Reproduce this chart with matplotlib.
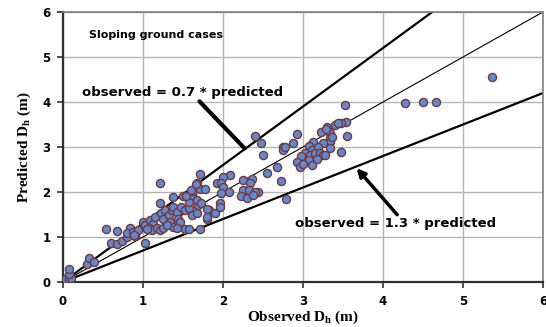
import matplotlib
matplotlib.use("Agg")
from matplotlib import pyplot as plt
import numpy as np

plt.rcParams['mathtext.fontset'] = 'custom'
plt.rcParams['mathtext.rm'] = 'Liberation Serif:bold'
plt.rcParams['mathtext.bf'] = 'Liberation Serif:bold'

# observed vs predicted displacement
observed = [
    0.03, 0.07, 0.10, 0.07, 0.07, 0.30, 0.32, 0.39,
    0.54, 0.67, 0.60, 0.67, 0.74, 0.80, 0.84, 0.80, 0.87, 0.90, 0.94, 0.89, 1.02,
    1.00, 1.03, 1.09, 1.13, 1.07, 1.11, 1.17, 1.21, 1.25, 1.15, 1.23, 1.28, 1.25,
    1.32, 1.36, 1.38, 1.42, 1.44, 1.46, 1.48, 1.53, 1.57, 1.61, 1.67, 1.69, 1.57,
    1.61, 1.67, 1.73, 1.82, 1.50, 1.38, 1.63, 1.71, 1.78, 1.67, 1.71, 1.34, 1.38,
    1.30, 1.42, 1.52, 1.71, 1.80, 1.80, 1.90, 1.21, 1.21, 1.05, 1.54, 1.60, 1.66,
    1.57, 1.80, 1.96, 1.96,
    2.09, 2.00, 1.92, 1.98, 2.25, 2.36, 2.34, 2.00, 2.07, 1.98, 2.25, 2.33, 2.44,
    2.23, 2.30, 2.40, 2.38,
    2.40, 2.48, 2.50, 2.75, 2.75, 2.55, 2.67, 2.73, 2.79,
    3.53, 3.54, 3.48, 3.40, 3.30, 3.23, 3.34, 3.34, 3.55, 3.34, 3.25, 2.92, 2.88,
    2.78, 3.13, 3.07, 3.11, 3.19, 3.03, 3.09, 3.15, 3.21, 3.25, 3.34, 3.48, 2.98,
    3.07, 3.17, 2.92, 2.96, 3.11, 3.28, 3.00, 3.44, 3.29, 3.36,
    4.27, 4.50, 4.66, 5.36,
]
predicted = [
    0.07, 0.07, 0.08, 0.18, 0.29, 0.41, 0.53, 0.45,
    1.17, 1.13, 0.87, 0.84, 0.92, 0.99, 1.21, 1.08, 1.12, 1.02, 1.16, 1.05, 0.86,
    1.34, 1.27, 1.38, 1.30, 1.19, 1.16, 1.19, 1.16, 1.19, 1.45, 1.53, 1.60, 1.41,
    1.49, 1.60, 1.67, 1.56, 1.41, 1.34, 1.67, 1.60, 1.64, 1.49, 1.53, 1.71, 1.78,
    1.93, 1.82, 1.75, 1.60, 1.91, 1.88, 2.03, 2.06, 2.06, 2.19, 2.39, 1.34, 1.23,
    1.27, 1.19, 1.17, 1.17, 1.41, 1.62, 1.53, 2.19, 1.75, 1.17, 1.91, 2.04, 2.18,
    1.17, 1.45, 1.75, 1.66,
    2.38, 2.33, 2.21, 2.19, 2.27, 2.28, 2.21, 2.12, 2.01, 1.97, 2.04, 2.04, 2.01,
    1.91, 1.86, 1.99, 1.93,
    3.25, 3.10, 2.82, 3.01, 2.93, 2.43, 2.56, 2.25, 1.84,
    3.93, 3.56, 3.53, 3.50, 3.44, 3.34, 3.32, 3.21, 3.24, 3.12, 3.08, 3.29, 3.08,
    2.99, 3.12, 3.02, 2.93, 3.01, 2.86, 2.82, 2.86, 2.86, 2.82, 2.97, 2.90, 2.79,
    2.71, 2.73, 2.67, 2.56, 2.60, 2.82, 2.62, 3.53, 3.41, 3.23,
    3.97, 4.00, 4.00, 4.56,
]

# reference lines: predicted = ratio * observed
ratios = [1.0, 1.3, 0.7]
line_widths = [0.8, 1.6, 1.6]

fig = plt.figure(figsize=(5.46, 3.27), dpi=100)
ax = fig.add_axes([0.1154, 0.1376, 0.8791, 0.8257])

ax.set_xlim(0, 6)
ax.set_ylim(0, 6)
ax.set_xticks(range(7))
ax.set_yticks(range(7))
ax.grid(True, color='#b4b4b4', lw=1.0)
ax.set_axisbelow(True)

xs = np.array([0.1, 6.0])
for r, lw in zip(ratios, line_widths):
    ax.plot(xs, r * xs, '-k', lw=lw, zorder=2)

ax.scatter(observed, predicted, s=34, c='#5b8bd5', edgecolors='#7a3535',
           linewidths=1.0, zorder=3)

for side in ['left', 'bottom']:
    ax.spines[side].set_color('#303030')
    ax.spines[side].set_linewidth(1.6)
for side in ['top', 'right']:
    ax.spines[side].set_color('#808080')
    ax.spines[side].set_linewidth(1.2)

ax.tick_params(length=4, width=1.2, color='#303030', pad=5)
for lab in ax.get_xticklabels() + ax.get_yticklabels():
    lab.set_fontfamily('DejaVu Sans')
    lab.set_fontweight('bold')
    lab.set_fontsize(8.5)

ax.set_xlabel(r'Observed D$_{\mathrm{h}}$ (m)', fontfamily='Liberation Serif',
              fontweight='bold', fontsize=11, labelpad=1)
ax.set_ylabel(r'Predicted D$_{\mathrm{h}}$ (m)', fontfamily='Liberation Serif',
              fontweight='bold', fontsize=11, labelpad=7)

ax.text(0.33, 5.49, 'Sloping ground cases', fontfamily='DejaVu Sans',
        fontweight='bold', fontsize=8, va='center')

ax.annotate('observed = 0.7 * predicted', xy=(2.27, 2.97), xytext=(0.24, 4.22),
            fontfamily='DejaVu Sans', fontweight='bold', fontsize=9.5, va='center',
            arrowprops=dict(arrowstyle='-', lw=3, color='k',
                            shrinkA=0, shrinkB=0, relpos=(0.57, 0.0)))
ax.annotate('observed = 1.3 * predicted', xy=(3.67, 2.53), xytext=(2.9, 1.29),
            fontfamily='DejaVu Sans', fontweight='bold', fontsize=9.5, va='center',
            arrowprops=dict(arrowstyle='-|>', lw=2.5, color='k', mutation_scale=12,
                            shrinkA=0, shrinkB=0, relpos=(0.52, 1.0)))

fig.savefig('out.png', dpi=100)
